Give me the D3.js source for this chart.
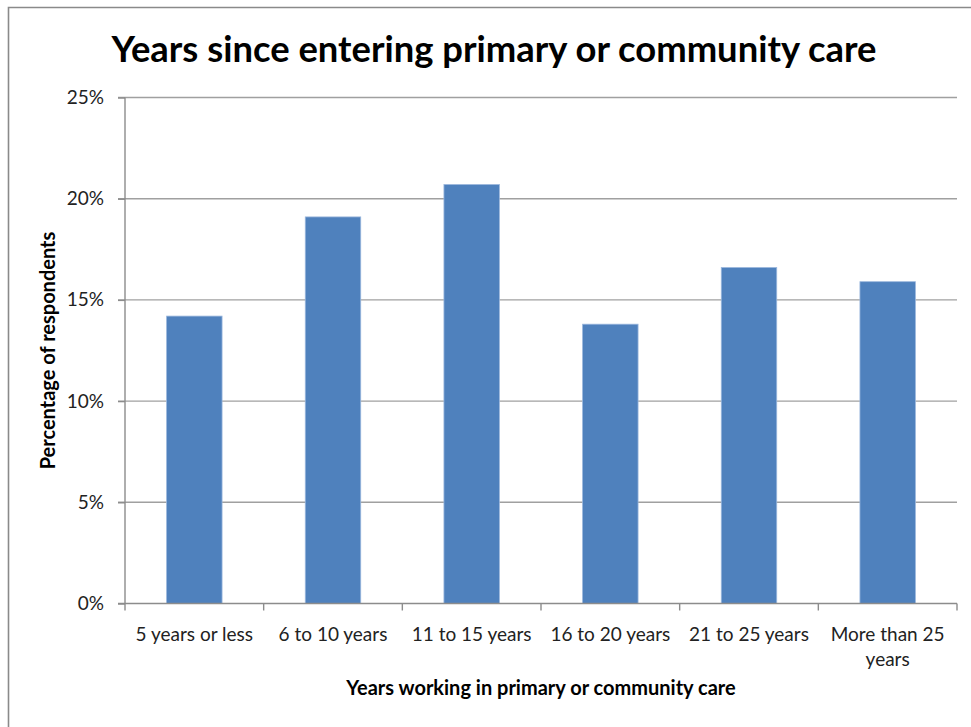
<!DOCTYPE html>
<html>
<head>
<meta charset="utf-8">
<script src="https://cdn.jsdelivr.net/npm/d3@7"></script>
<style>
  html, body { margin: 0; padding: 0; background: #fff; }
  svg { display: block; font-family: Lato, "Open Sans", sans-serif; }
</style>
</head>
<body>
<svg id="chart" width="971" height="727"></svg>
<script>
// Share of respondents by years worked in primary or community care
const categories = ["5 years or less", "6 to 10 years", "11 to 15 years", "16 to 20 years", "21 to 25 years", "More than 25 years"];
const percentages = [14.2, 19.1, 20.7, 13.8, 16.6, 15.9];
const yTicks = [0, 5, 10, 15, 20, 25];

const chartTitle = "Years since entering primary or community care";
const xTitle = "Years working in primary or community care";
const yTitle = "Percentage of respondents";

const W = 971, H = 727;
const margin = { top: 97.5, right: 14, bottom: 123.5, left: 125 };
const innerW = W - margin.left - margin.right;
const innerH = H - margin.top - margin.bottom;

const svg = d3.select("#chart");

// outer frame (top and left edges are visible)
svg.append("path")
  .attr("d", `M8.5,${H} V7.5 H${W}`)
  .attr("fill", "none")
  .attr("stroke", "#8a8a8a")
  .attr("stroke-width", 1.6);

const g = svg.append("g").attr("transform", `translate(${margin.left},${margin.top})`);

const x = d3.scaleBand().domain(categories).range([0, innerW]).paddingInner(0.6).paddingOuter(0.3);
const y = d3.scaleLinear().domain([0, 25]).range([innerH, 0]);

// horizontal gridlines
g.append("g")
  .selectAll("line")
  .data(yTicks.filter(t => t > 0))
  .join("line")
  .attr("x1", -7).attr("x2", innerW)
  .attr("y1", d => y(d)).attr("y2", d => y(d))
  .attr("stroke", "#a0a0a0")
  .attr("stroke-width", 1.4);

// bars
g.append("g")
  .selectAll("rect")
  .data(percentages)
  .join("rect")
  .attr("x", (d, i) => x(categories[i]))
  .attr("y", d => y(d))
  .attr("width", x.bandwidth())
  .attr("height", d => innerH - y(d))
  .attr("fill", "#4f81bd")
  .attr("stroke", "#9bb7dd")
  .attr("stroke-width", 0.8);

// y axis
const yAxis = g.append("g")
  .call(d3.axisLeft(y).tickValues(yTicks).tickFormat(d => d + "%").tickSize(7).tickPadding(14));
yAxis.select(".domain").attr("stroke", "#8c8c8c").attr("stroke-width", 1.4).attr("d", `M0,${innerH}V0`);
yAxis.selectAll(".tick line").attr("stroke", "#8c8c8c").attr("stroke-width", 1.4);
yAxis.selectAll(".tick text").attr("font-size", 19).attr("fill", "#222").attr("font-family", "Lato");

// x axis: tick marks on category boundaries
const xAxisG = g.append("g").attr("transform", `translate(0,${innerH})`);
xAxisG.append("line")
  .attr("x1", -7).attr("x2", innerW)
  .attr("stroke", "#8c8c8c").attr("stroke-width", 1.4);
const boundaries = d3.range(categories.length + 1).map(i => i * innerW / categories.length);
xAxisG.selectAll("line.tk")
  .data(boundaries)
  .join("line")
  .attr("class", "tk")
  .attr("x1", d => d).attr("x2", d => d)
  .attr("y1", 0).attr("y2", 7)
  .attr("stroke", "#8c8c8c").attr("stroke-width", 1.4);

// category labels with wrapping
const maxLabelW = innerW / categories.length - 4;
categories.forEach((c, i) => {
  const cx = x(c) + x.bandwidth() / 2;
  const t = xAxisG.append("text")
    .attr("x", cx).attr("y", 37)
    .attr("text-anchor", "middle")
    .attr("font-size", 19).attr("fill", "#222");
  const words = c.split(" ");
  let line = [];
  let tspan = t.append("tspan").attr("x", cx).attr("dy", 0);
  words.forEach(w => {
    line.push(w);
    tspan.text(line.join(" "));
    if (tspan.node().getComputedTextLength() > maxLabelW && line.length > 1) {
      line.pop();
      tspan.text(line.join(" "));
      line = [w];
      tspan = t.append("tspan").attr("x", cx).attr("dy", 25).text(w);
    }
  });
});

// titles
svg.append("text")
  .attr("x", 494).attr("y", 62)
  .attr("text-anchor", "middle")
  .attr("font-size", 36.4).attr("font-weight", "bold").attr("fill", "#000")
  .text(chartTitle);

svg.append("text")
  .attr("x", margin.left + innerW / 2).attr("y", 695)
  .attr("text-anchor", "middle")
  .attr("font-size", 20).attr("font-weight", "bold").attr("fill", "#000")
  .text(xTitle);

svg.append("text")
  .attr("transform", `translate(55,${margin.top + innerH / 2}) rotate(-90)`)
  .attr("text-anchor", "middle")
  .attr("font-size", 20).attr("font-weight", "bold").attr("fill", "#000")
  .text(yTitle);
</script>
</body>
</html>
